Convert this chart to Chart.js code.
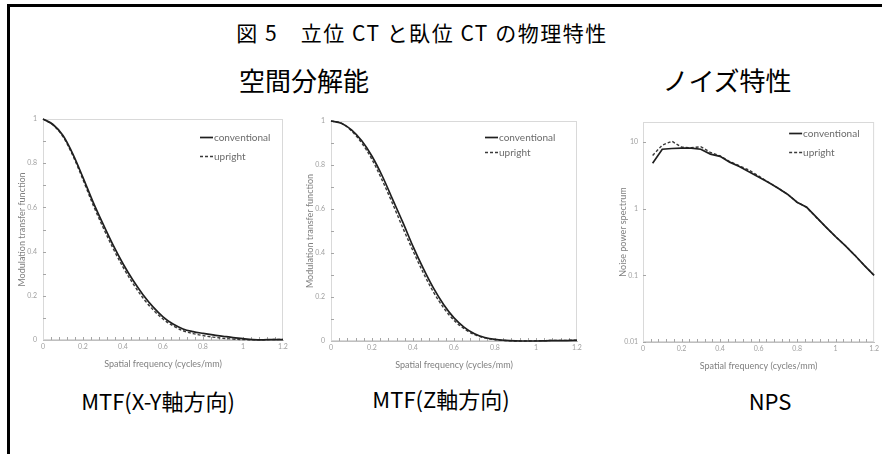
<!DOCTYPE html>
<html lang="ja">
<head>
<meta charset="utf-8">
<title>図5 立位CTと臥位CTの物理特性</title>
<script src="https://cdn.jsdelivr.net/npm/chart.js@4.4.1/dist/chart.umd.min.js"></script>
<style>
  html, body { margin: 0; padding: 0; background: #fff; }
  #page { position: relative; width: 882px; height: 454px; overflow: hidden; font-family: "Noto Sans CJK JP", sans-serif; }
  #frame { position: absolute; left: 7px; top: 4px; right: -10px; bottom: -10px; border-top: 3px solid #000; border-left: 3px solid #000; }
  .txt { position: absolute; transform: translate(-50%, -50%); white-space: nowrap; color: #000; line-height: 1; }
  canvas { position: absolute; }
</style>
</head>
<body>
<div id="page">
  <div id="frame"></div>
  <div class="txt" style="left:422px; top:32px; font-size:21px; letter-spacing:1.5px;">図 5　立位 CT と臥位 CT の物理特性</div>
  <div class="txt" style="left:304px; top:80px; font-size:26px;">空間分解能</div>
  <div class="txt" style="left:727px; top:80px; font-size:26px;">ノイズ特性</div>

  <canvas id="mtfXY" width="285" height="270" style="left:10px; top:100px;"></canvas>
  <canvas id="mtfZ" width="289" height="271" style="left:298px; top:100px;"></canvas>
  <canvas id="nps" width="272" height="272" style="left:610px; top:100px;"></canvas>

  <div class="txt" style="left:158px; top:400px; font-size:22px;">MTF(X-Y軸方向)</div>
  <div class="txt" style="left:441px; top:398px; font-size:22px;">MTF(Z軸方向)</div>
  <div class="txt" style="left:770px; top:400px; font-size:22px;">NPS</div>
</div>

<script>
// Data
const seriesNames = ["conventional", "upright"];

const mtfFreq = [0, 0.05, 0.1, 0.15, 0.2, 0.25, 0.3, 0.35, 0.4, 0.45, 0.5, 0.55, 0.6,
  0.65, 0.7, 0.75, 0.8, 0.85, 0.9, 0.95, 1.0, 1.05, 1.1, 1.15, 1.2];

const xyConventional = [1, 0.975, 0.925, 0.84, 0.735, 0.625, 0.525, 0.43, 0.345, 0.27, 0.205, 0.15, 0.105,
  0.072, 0.05, 0.038, 0.03, 0.023, 0.017, 0.011, 0.006, 0.002, 0.001, 0.002, 0.002];
const xyUpright = [1, 0.973, 0.92, 0.833, 0.725, 0.612, 0.51, 0.415, 0.33, 0.255, 0.19, 0.137, 0.095,
  0.064, 0.042, 0.029, 0.02, 0.013, 0.008, 0.004, 0.002, 0.001, 0.001, 0.002, 0.003];

const zConventional = [1, 0.99, 0.96, 0.91, 0.84, 0.75, 0.645, 0.54, 0.43, 0.33, 0.24, 0.165, 0.105,
  0.062, 0.033, 0.016, 0.007, 0.003, 0.001, 0, 0, 0.001, 0.002, 0.002, 0.003];
const zUpright = [1, 0.99, 0.955, 0.9, 0.825, 0.73, 0.625, 0.515, 0.41, 0.31, 0.222, 0.15, 0.094,
  0.055, 0.029, 0.014, 0.006, 0.002, 0, 0, 0.001, 0.002, 0.003, 0.003, 0.004];

const npsFreq = [0.05, 0.1, 0.15, 0.2, 0.25, 0.3, 0.35, 0.4, 0.45, 0.5, 0.55, 0.6,
  0.65, 0.7, 0.75, 0.8, 0.85, 0.9, 0.95, 1.0, 1.05, 1.1, 1.15, 1.2];
const npsConventional = [4.8, 7.8, 8.0, 8.1, 8.1, 7.8, 6.6, 6.1, 5.0, 4.3, 3.6, 3.0,
  2.5, 2.05, 1.65, 1.25, 1.05, 0.75, 0.53, 0.38, 0.28, 0.2, 0.14, 0.1];
const npsUpright = [6.3, 9.0, 10.3, 8.4, 8.2, 8.5, 7.0, 6.2, 5.1, 4.4, 3.8, 3.1,
  2.5, 2.05, 1.65, 1.25, 1.05, 0.74, 0.53, 0.38, 0.28, 0.2, 0.14, 0.1];

const npsTicks = [0.01, 0.1, 1, 10];
const mtfMinorTicks = [0.1, 0.2, 0.3, 0.4, 0.5, 0.6, 0.7, 0.8, 0.9];

Chart.defaults.font.family = 'Lato, "Open Sans", sans-serif';
Chart.defaults.color = "#8c8c8c";

function points(xs, ys) {
  return xs.map((x, i) => ({ x: x, y: ys[i] }));
}

// Excel style labels: 0, 0.2, ... 1, 1.2
function plainLabel(v) {
  return String(Number(v.toFixed(2)));
}

function makeDatasets(xs, conv, up, smooth) {
  const mode = smooth ? "monotone" : "default";
  return [
    { label: seriesNames[0], data: points(xs, conv), borderColor: "#1f1f1f", borderWidth: 1.7,
      pointRadius: 0, tension: 0, cubicInterpolationMode: mode, clip: false },
    { label: seriesNames[1], data: points(xs, up), borderColor: "#3a3a3a", borderWidth: 1.4,
      borderDash: [3, 2], pointRadius: 0, tension: 0, cubicInterpolationMode: mode, clip: false }
  ];
}

// light plot border + small inside tick marks like the Excel original
const plotFrame = {
  id: "plotFrame",
  beforeDatasetsDraw(chart, args, opts) {
    const { ctx, chartArea: a, scales: { x, y } } = chart;
    ctx.save();
    ctx.lineWidth = 1;
    ctx.strokeStyle = "#d9d9d9";
    ctx.strokeRect(a.left + 0.5, a.top + 0.5, a.width - 1, a.height - 1);
    ctx.strokeStyle = "#a6a6a6";
    ctx.beginPath();
    const n = Math.round((x.max - x.min) / opts.xMinor);
    for (let i = 1; i < n; i++) {
      const px = Math.round(x.getPixelForValue(x.min + i * opts.xMinor)) + 0.5;
      ctx.moveTo(px, a.bottom);
      ctx.lineTo(px, a.bottom - 3);
    }
    (opts.yMarks || []).forEach(v => {
      const py = Math.round(y.getPixelForValue(v)) + 0.5;
      ctx.moveTo(a.left, py);
      ctx.lineTo(a.left + 3, py);
    });
    ctx.stroke();
    ctx.restore();
  }
};

// legend drawn inside the plot, top right
const insideLegend = {
  id: "insideLegend",
  afterDraw(chart, args, opts) {
    const { ctx, chartArea: a } = chart;
    ctx.save();
    ctx.font = "10px Lato";
    ctx.textBaseline = "middle";
    chart.data.datasets.forEach((ds, i) => {
      const x = a.right - opts.right;
      const y = Math.round(a.top + opts.top + i * opts.gap) + 0.5;
      ctx.strokeStyle = ds.borderColor;
      ctx.lineWidth = ds.borderWidth;
      ctx.setLineDash(ds.borderDash || []);
      ctx.beginPath();
      ctx.moveTo(x, y);
      ctx.lineTo(x + 13, y);
      ctx.stroke();
      ctx.setLineDash([]);
      ctx.fillStyle = "#6b6b6b";
      ctx.fillText(ds.label, x + 14, y);
    });
    ctx.restore();
  }
};

function xScale() {
  return {
    type: "linear", min: 0, max: 1.2,
    ticks: { stepSize: 0.2, padding: 3, font: { size: 7 }, color: "#a0a0a0", maxRotation: 0,
      autoSkip: false, callback: plainLabel },
    grid: { display: false, drawTicks: false },
    border: { color: "#bfbfbf" },
    title: { display: true, text: "Spatial frequency (cycles/mm)", font: { size: 9 }, color: "#7f7f7f",
      padding: { top: 0, bottom: 1 } },
    afterFit(scale) { scale.height = 30; }
  };
}

function yTitle(text, pad) {
  return { display: true, text: text, font: { size: 9 }, color: "#7f7f7f", padding: { top: pad, bottom: 0 } };
}

function mtfChart(id, conv, up, pad, legendOpts) {
  return new Chart(document.getElementById(id), {
    type: "line",
    data: { datasets: makeDatasets(mtfFreq, conv, up, true) },
    options: {
      responsive: false,
      animation: false,
      layout: { padding: pad },
      scales: {
        x: xScale(),
        y: {
          type: "linear", min: 0, max: 1,
          ticks: { stepSize: 0.2, padding: 6, font: { size: 7 }, color: "#a0a0a0", callback: plainLabel },
          grid: { display: false, drawTicks: false },
          border: { color: "#bfbfbf" },
          title: yTitle("Modulation transfer function", 7),
          afterFit(scale) { scale.width = 33; }
        }
      },
      plugins: {
        legend: { display: false },
        tooltip: { enabled: false },
        plotFrame: { xMinor: 0.04, yMarks: mtfMinorTicks },
        insideLegend: legendOpts
      }
    },
    plugins: [plotFrame, insideLegend]
  });
}

mtfChart("mtfXY", xyConventional, xyUpright, { top: 19, right: 12, left: 0, bottom: 0 },
  { right: 83, top: 18, gap: 19 });
mtfChart("mtfZ", zConventional, zUpright, { top: 21, right: 10, left: 0, bottom: 0 },
  { right: 92, top: 16, gap: 15 });

new Chart(document.getElementById("nps"), {
  type: "line",
  data: { datasets: makeDatasets(npsFreq, npsConventional, npsUpright, false) },
  options: {
    responsive: false,
    animation: false,
    layout: { padding: { top: 22, right: 7, left: 0, bottom: 0 } },
    scales: {
      x: xScale(),
      y: {
        type: "logarithmic", min: 0.01, max: 20,
        afterBuildTicks(scale) { scale.ticks = npsTicks.map(v => ({ value: v })); },
        ticks: { padding: 5, font: { size: 7 }, color: "#a0a0a0", callback: v => String(v) },
        grid: { display: false, drawTicks: false },
        border: { color: "#bfbfbf" },
        title: yTitle("Noise power spectrum", 8),
        afterFit(scale) { scale.width = 33; }
      }
    },
    plugins: {
      legend: { display: false },
      tooltip: { enabled: false },
      plotFrame: { xMinor: 0.04, yMarks: npsTicks },
      insideLegend: { right: 85, top: 11, gap: 19 }
    }
  },
  plugins: [plotFrame, insideLegend]
});
</script>
</body>
</html>
